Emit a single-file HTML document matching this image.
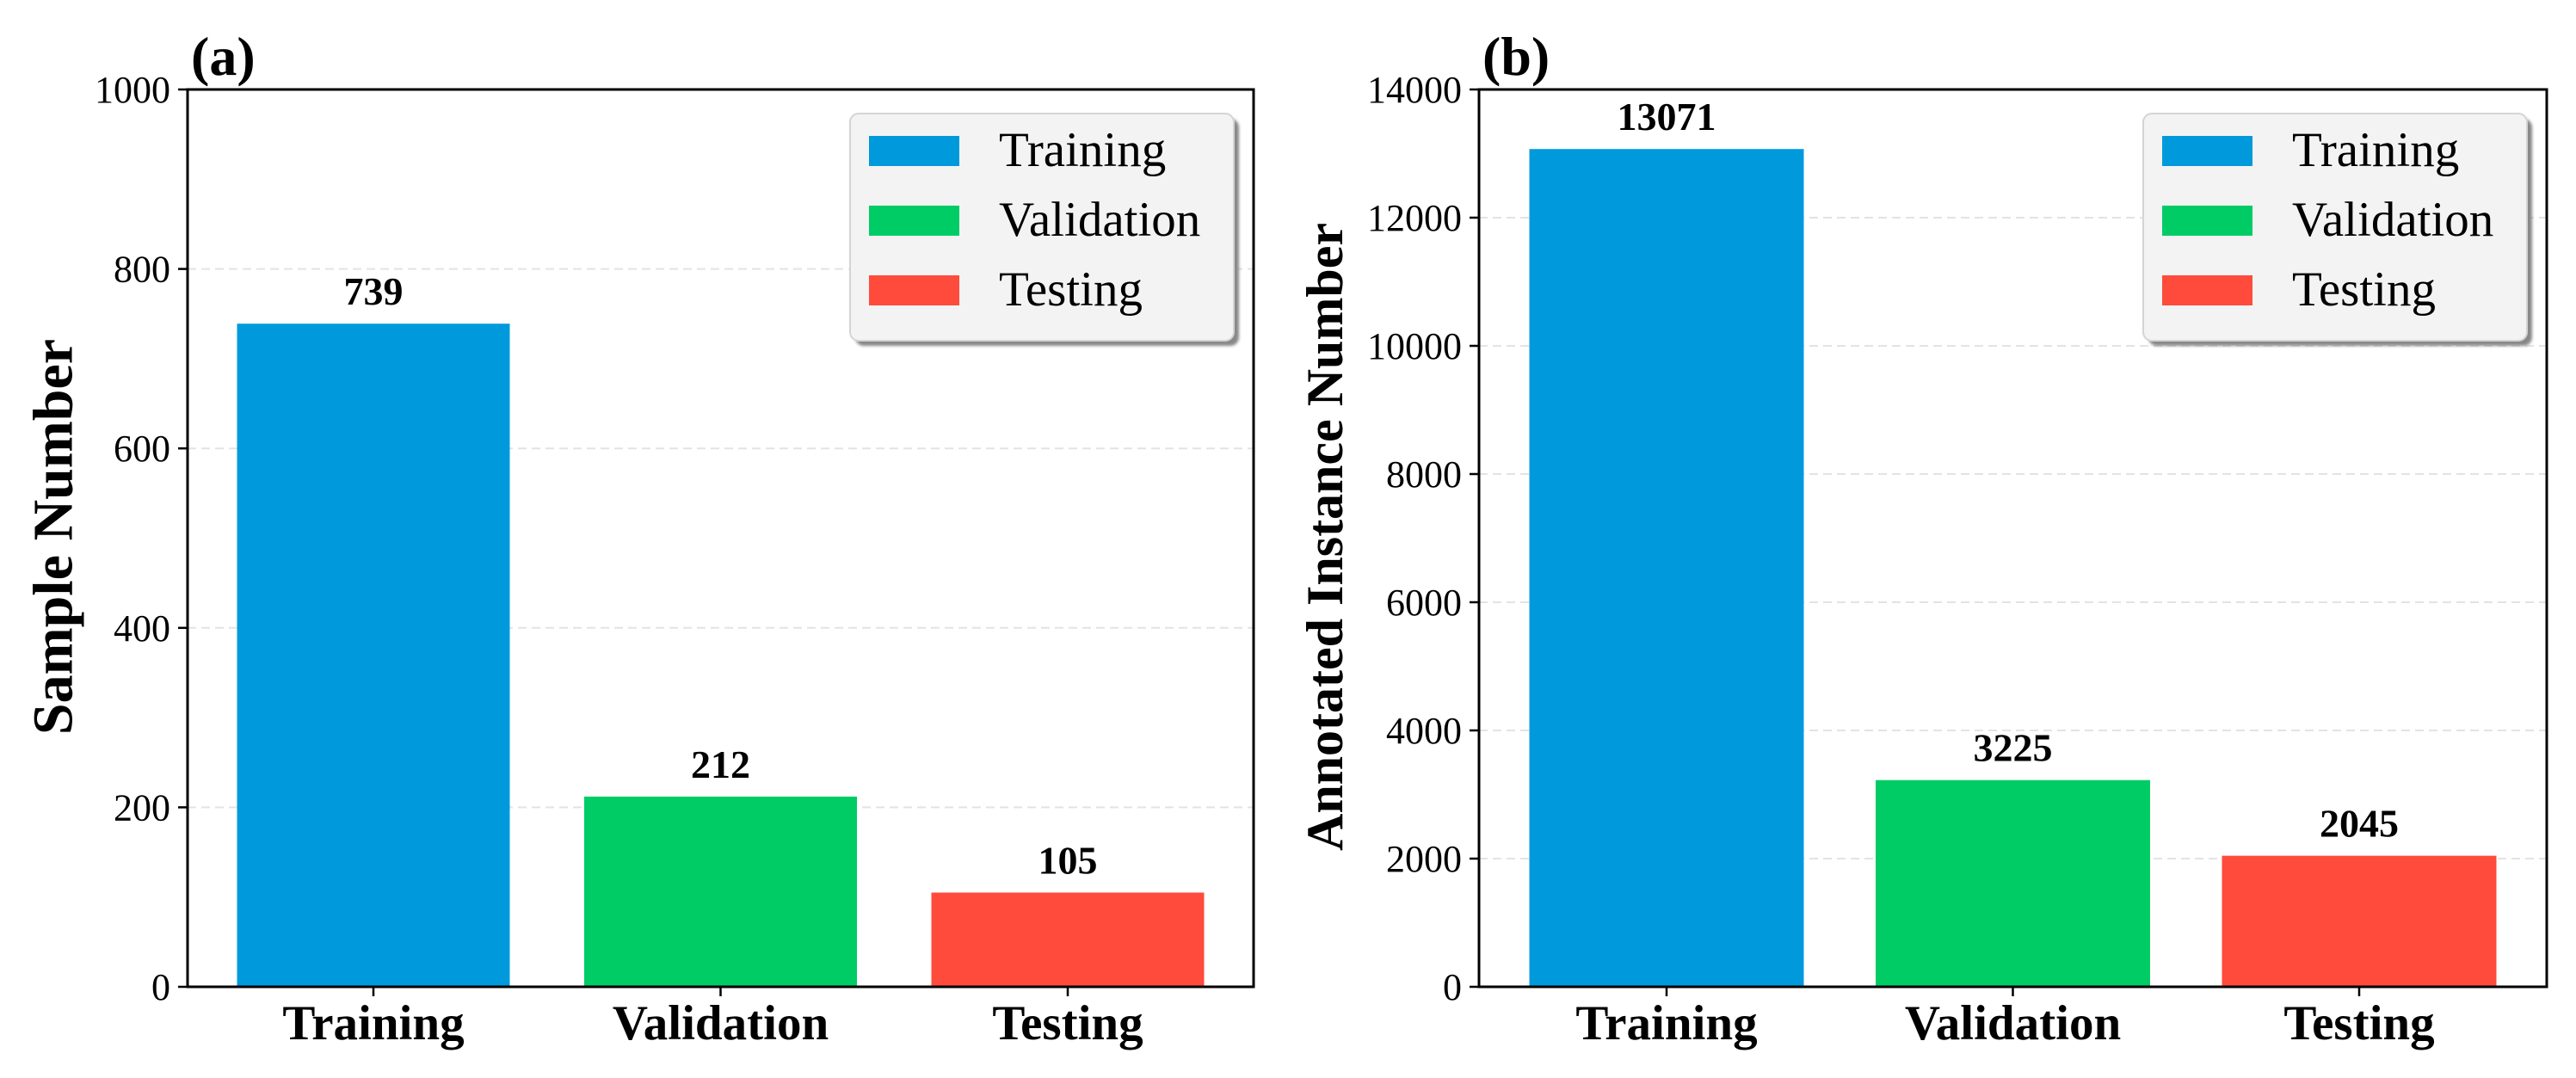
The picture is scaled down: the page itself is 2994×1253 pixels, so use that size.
<!DOCTYPE html>
<html><head><meta charset="utf-8"><style>
html,body{margin:0;padding:0;background:#fff;}
svg{display:block;font-family:"Liberation Serif",serif;}
</style></head><body>
<svg id="chart" width="2994" height="1253" viewBox="0 0 2994 1253" xmlns="http://www.w3.org/2000/svg">
<defs>
<filter id="sh" x="-10%" y="-10%" width="130%" height="130%"><feOffset dx="6" dy="6"/><feGaussianBlur stdDeviation="1.5"/></filter>
</defs>
</svg>
<script>
const categories = ["Training", "Validation", "Testing"];
const seriesA = [739, 212, 105];
const seriesB = [13071, 3225, 2045];
const ticksA = [0, 200, 400, 600, 800, 1000];
const ticksB = [0, 2000, 4000, 6000, 8000, 10000, 12000, 14000];
const colors = ["#009ADC", "#00CC66", "#FF4B3C"];

const NS = "http://www.w3.org/2000/svg";
const svg = document.getElementById("chart");
function mk(tag, attrs, parent) {
  const e = document.createElementNS(NS, tag);
  for (const k in attrs) e.setAttribute(k, attrs[k]);
  (parent || svg).appendChild(e);
  return e;
}

function panel(cfg) {
  const g = mk("g", {});
  
  
  const L = cfg.left, R = cfg.right, T = 104, B = 1147;
  const ymax = cfg.ticks[cfg.ticks.length - 1];
  const y = v => B - (v / ymax) * (B - T);
  const unit = cfg.unit;
  const x = i => cfg.c0 + i * unit;
  const bw = cfg.bw;
  cfg.ticks.forEach(t => {
    if (t === 0 || t === ymax) return;
    const gl = mk("line", {x1: L, x2: R, y1: y(t), y2: y(t), stroke: "#e3e3e3", "stroke-width": 2, "stroke-dasharray": "10,6"}, g);
    
    
  });
  cfg.values.forEach((v, i) => {
    const r = mk("rect", {x: x(i) - bw / 2, y: y(v), width: bw, height: B - y(v), fill: colors[i]}, g);
    
    
    const t = mk("text", {x: x(i), y: y(v) - 22, "text-anchor": "middle", "font-size": 46, "font-weight": "bold", fill: "#000"}, g);
    t.textContent = v;
    
    
    const tk = mk("line", {x1: x(i), x2: x(i), y1: B, y2: B + 11, stroke: "#000", "stroke-width": 2.5}, g);
    
    
    const cl = mk("text", {x: x(i), y: 1208, "text-anchor": "middle", "font-size": 57, "font-weight": "bold"}, g);
    cl.textContent = categories[i];
    
    
  });
  cfg.ticks.forEach(t => {
    const tk = mk("line", {x1: L - 11, x2: L, y1: y(t), y2: y(t), stroke: "#000", "stroke-width": 2.5}, g);
    
    
    const tl = mk("text", {x: L - 20, y: y(t) + 15, "text-anchor": "end", "font-size": 44}, g);
    tl.textContent = t;
    
    
  });
  const fr = mk("rect", {x: L, y: T, width: R - L, height: B - T, fill: "none", stroke: "#000", "stroke-width": 3}, g);
  
  
  const yt = mk("text", {x: cfg.ytx, y: 624, "text-anchor": "middle", "font-size": cfg.yfs, "font-weight": "bold", transform: "rotate(-90 " + cfg.ytx + " 624)", "dominant-baseline": "central"}, g);
  yt.textContent = cfg.ytitle;
  
  
  const pl = mk("text", {x: L + 4, y: 87, "font-size": 64, "font-weight": "bold"}, g);
  pl.textContent = cfg.label;
  
  
  const lg = mk("g", {}, g);
  
  
  const lx = cfg.legX, lw = cfg.legW;
  mk("rect", {x: lx, y: 132, width: lw, height: 264, rx: 10, fill: "#888", filter: "url(#sh)"}, lg);
  mk("rect", {x: lx, y: 132, width: lw, height: 264, rx: 10, fill: "#f3f3f3", stroke: "#d4d4d4", "stroke-width": 2}, lg);
  categories.forEach((c, i) => {
    const cy = 175 + i * 81;
    const en = mk("g", {}, lg);
    
    
    mk("rect", {x: lx + 22, y: cy - 17, width: 105, height: 35, fill: colors[i]}, en);
    const lt = mk("text", {x: lx + 173, y: cy + 18, "font-size": 57}, en);
    lt.textContent = c;
  });
}

panel({name: "panel-a", left: 218, right: 1457, c0: 434, unit: 403.5, bw: 317, values: seriesA, ticks: ticksA,
  ytitle: "Sample Number", ytx: 62, yfs: 66, label: "(a)", legX: 988, legW: 446});
panel({name: "panel-b", left: 1719, right: 2960, c0: 1937, unit: 402.5, bw: 319, values: seriesB, ticks: ticksB,
  ytitle: "Annotated Instance Number", ytx: 1540, yfs: 60, label: "(b)", legX: 2491, legW: 446});
</script>
</body></html>
